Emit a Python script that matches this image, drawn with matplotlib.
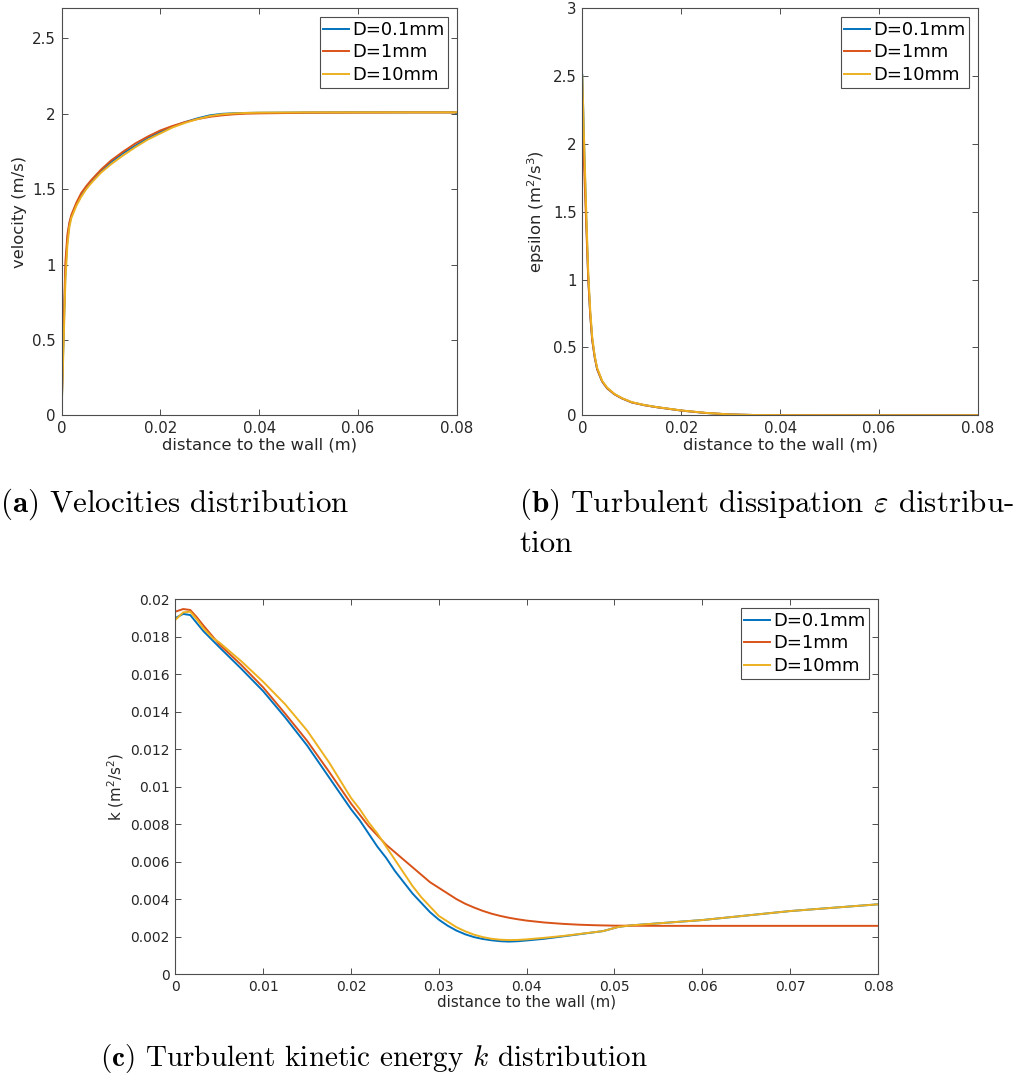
import matplotlib
matplotlib.use('Agg')
import matplotlib.pyplot as plt

# series labels and colours (MATLAB default order)
labels = ['D=0.1mm', 'D=1mm', 'D=10mm']
colors = ['#0072BD', '#D95319', '#EDB120']

# --- velocity profiles (m/s) vs distance to the wall (m)
vel_x = [0, 0.0004, 0.0008, 0.0012, 0.0016, 0.002, 0.003, 0.004, 0.005, 0.006,
         0.008, 0.01, 0.0125, 0.015, 0.0175, 0.02, 0.0225, 0.025, 0.0275, 0.03,
         0.0325, 0.035, 0.0375, 0.04, 0.045, 0.05, 0.06, 0.07, 0.0795, 0.08]
vel_01 = [0, 0.50, 0.96, 1.17, 1.27, 1.32, 1.40, 1.46, 1.51, 1.55,
          1.62, 1.68, 1.74, 1.79, 1.84, 1.88, 1.915, 1.945, 1.97, 1.99,
          2.0, 2.004, 2.006, 2.007, 2.008, 2.009, 2.01, 2.01, 2.01, 2.0]
vel_1 = [0, 0.56, 1.02, 1.20, 1.28, 1.33, 1.41, 1.475, 1.52, 1.56,
         1.63, 1.69, 1.75, 1.805, 1.85, 1.89, 1.92, 1.945, 1.965, 1.98,
         1.99, 1.997, 2.001, 2.003, 2.005, 2.007, 2.008, 2.009, 2.009, 2.009]
vel_10 = [0, 0.45, 0.90, 1.13, 1.25, 1.31, 1.39, 1.45, 1.50, 1.54,
          1.61, 1.665, 1.725, 1.78, 1.83, 1.87, 1.91, 1.94, 1.965, 1.985,
          1.997, 2.003, 2.006, 2.008, 2.009, 2.01, 2.01, 2.01, 2.01, 2.01]

# --- turbulent dissipation epsilon (m2/s3)
eps_x = [0, 0.0004, 0.0008, 0.0012, 0.0016, 0.002, 0.0025, 0.003, 0.004, 0.005,
         0.0065, 0.008, 0.01, 0.0125, 0.015, 0.02, 0.025, 0.03, 0.035, 0.04,
         0.05, 0.06, 0.08]
eps_01 = [2.51, 1.95, 1.45, 1.02, 0.75, 0.56, 0.43, 0.34, 0.25, 0.20,
          0.155, 0.125, 0.095, 0.075, 0.06, 0.035, 0.017, 0.006, 0.002, 0.001,
          0.0003, 0.0001, 0]
eps_1 = [2.15, 1.80, 1.40, 1.00, 0.74, 0.555, 0.43, 0.34, 0.25, 0.20,
         0.155, 0.125, 0.095, 0.075, 0.06, 0.035, 0.017, 0.006, 0.002, 0.001,
         0.0003, 0.0001, 0]
eps_10 = [2.50, 1.98, 1.50, 1.06, 0.78, 0.58, 0.44, 0.35, 0.255, 0.205,
          0.158, 0.127, 0.097, 0.076, 0.061, 0.036, 0.018, 0.006, 0.002, 0.001,
          0.0003, 0.0001, 0]

# --- turbulent kinetic energy k (m2/s2)
k_x_01 = [0, 0.0009, 0.0017, 0.0025, 0.0032, 0.005, 0.0075, 0.01, 0.0125, 0.015,
          0.0175, 0.02, 0.021, 0.022, 0.023, 0.024, 0.025, 0.026, 0.027, 0.028,
          0.029, 0.03, 0.031, 0.032, 0.033, 0.034, 0.035, 0.036, 0.037, 0.038,
          0.039, 0.04, 0.042, 0.0445, 0.0487, 0.0505, 0.052, 0.06, 0.07, 0.08]
k_01 = [0.0190, 0.01922, 0.01916, 0.0187, 0.0183, 0.01745, 0.0163, 0.0151, 0.0137, 0.0122,
        0.0105, 0.0088, 0.0082, 0.0075, 0.0068, 0.0062, 0.0055, 0.0049, 0.0043, 0.0038,
        0.0033, 0.0029, 0.00258, 0.00232, 0.00212, 0.00197, 0.00187, 0.0018, 0.00175, 0.00173,
        0.00175, 0.00179, 0.00188, 0.00203, 0.00229, 0.00252, 0.0026, 0.00288, 0.00336, 0.00372]

k_x_1 = [0, 0.0009, 0.0017, 0.0024, 0.0032, 0.005, 0.0075, 0.01, 0.0125, 0.015,
         0.0175, 0.02, 0.021, 0.022, 0.023, 0.024, 0.025, 0.026, 0.027, 0.028,
         0.029, 0.03, 0.031, 0.032, 0.033, 0.034, 0.035, 0.036, 0.037, 0.038,
         0.039, 0.04, 0.042, 0.044, 0.046, 0.048, 0.05, 0.055, 0.06, 0.07, 0.08]
k_1 = [0.01934, 0.01948, 0.01943, 0.01907, 0.0186, 0.0176, 0.0165, 0.0153, 0.0139, 0.01245,
       0.0108, 0.0091, 0.0085, 0.0079, 0.0074, 0.0069, 0.0065, 0.0061, 0.0057, 0.0053,
       0.0049, 0.0046, 0.0043, 0.0040, 0.00375, 0.00355, 0.00337, 0.00322, 0.0031, 0.0030,
       0.00292, 0.00285, 0.00275, 0.00268, 0.00263, 0.0026, 0.00258, 0.00257, 0.00257, 0.00257, 0.00257]

k_x_10 = [0, 0.0009, 0.0017, 0.0025, 0.0032, 0.0043, 0.005, 0.0075, 0.01, 0.0125,
          0.015, 0.0175, 0.02, 0.021, 0.022, 0.023, 0.024, 0.025, 0.026, 0.027,
          0.028, 0.029, 0.03, 0.031, 0.032, 0.033, 0.034, 0.035, 0.036, 0.037,
          0.038, 0.039, 0.04, 0.042, 0.0445, 0.0487, 0.0505, 0.052, 0.06, 0.07, 0.08]
k_10 = [0.0189, 0.0193, 0.01934, 0.0189, 0.01845, 0.01792, 0.0177, 0.0167, 0.0156, 0.0144,
        0.0130, 0.0113, 0.0094, 0.0088, 0.0081, 0.0075, 0.0068, 0.0061, 0.0054, 0.0047,
        0.0041, 0.0036, 0.0031, 0.0028, 0.0025, 0.00228, 0.0021, 0.00197, 0.00188, 0.00183,
        0.00181, 0.00182, 0.00185, 0.00193, 0.00205, 0.00229, 0.00252, 0.0026, 0.00288, 0.00336, 0.00372]

# tick labels
x_ticks_ab = [0, 0.02, 0.04, 0.06, 0.08]
x_ticks_c = [0, 0.01, 0.02, 0.03, 0.04, 0.05, 0.06, 0.07, 0.08]
vel_ticks = [0, 0.5, 1, 1.5, 2, 2.5]
eps_ticks = [0, 0.5, 1, 1.5, 2, 2.5, 3]
k_ticks = [0, 0.002, 0.004, 0.006, 0.008, 0.01, 0.012, 0.014, 0.016, 0.018, 0.02]

W, H = 1029, 1080
AX_COLOR = '#4d4d4d'
TXT_COLOR = '#262626'

fig = plt.figure(figsize=(W / 100, H / 100), dpi=100)


def px_axes(left, top, right, bottom):
    return fig.add_axes([left / W, 1 - bottom / H, (right - left) / W, (bottom - top) / H])


def style(ax, xticks, yticks, xlim, ylim, fs, lfs):
    ax.set_xlim(*xlim)
    ax.set_ylim(*ylim)
    ax.set_xticks(xticks, ['%g' % v for v in xticks])
    ax.set_yticks(yticks, ['%g' % v for v in yticks])
    ax.tick_params(direction='in', top=True, right=True, length=4.5, width=0.7,
                   color=AX_COLOR, labelcolor=TXT_COLOR, labelsize=fs, pad=4)
    for s in ax.spines.values():
        s.set_color(AX_COLOR)
        s.set_linewidth(0.8)
    ax.set_xlabel('distance to the wall (m)', fontsize=lfs, color=TXT_COLOR, labelpad=1)


def add_legend(ax, fs):
    leg = ax.legend(labels, loc='upper right', fontsize=fs, fancybox=False,
                    framealpha=1, edgecolor=AX_COLOR, handlelength=1.45,
                    handletextpad=0.15, labelspacing=0.25, borderpad=0.2,
                    borderaxespad=0.5)
    leg.get_frame().set_linewidth(0.8)


# (a) velocity
ax1 = px_axes(61.5, 8.3, 457, 415.3)
for y, c in zip([vel_01, vel_1, vel_10], colors):
    ax1.plot(vel_x, y, color=c, lw=1.4)
style(ax1, x_ticks_ab, vel_ticks, (0, 0.08), (0, 2.7), 10.8, 11.8)
ax1.set_ylabel('velocity (m/s)', fontsize=11.8, color=TXT_COLOR, labelpad=4)
add_legend(ax1, 13)

# (b) epsilon
ax2 = px_axes(582.3, 8.3, 978, 415.3)
for y, c in zip([eps_01, eps_1, eps_10], colors):
    ax2.plot(eps_x, y, color=c, lw=1.4)
style(ax2, x_ticks_ab, eps_ticks, (0, 0.08), (0, 3), 10.8, 11.8)
ax2.set_ylabel('epsilon (m$^2$/s$^3$)', fontsize=11.8, color=TXT_COLOR, labelpad=4)
add_legend(ax2, 13)

# (c) k
ax3 = px_axes(175.3, 599.3, 878, 974)
for xs, y, c in zip([k_x_01, k_x_1, k_x_10], [k_01, k_1, k_10], colors):
    ax3.plot(xs, y, color=c, lw=1.4)
style(ax3, x_ticks_c, k_ticks, (0, 0.08), (0, 0.02), 10, 10.8)
ax3.set_ylabel('k (m$^2$/s$^2$)', fontsize=10.8, color=TXT_COLOR, labelpad=3)
add_legend(ax3, 13)

# sub-figure captions
cap = dict(family='cmr10', math_fontfamily='cm', color='black', va='baseline')
fig.text(0 / W, 1 - 512 / H, r'$\mathbf{(a)}$ Velocities distribution', fontsize=22.3, **cap)
fig.text(519 / W, 1 - 512 / H, r'$\mathbf{(b)}$ Turbulent dissipation $\varepsilon$ distribu-',
         fontsize=22.3, **cap)
fig.text(519 / W, 1 - 552 / H, 'tion', fontsize=22.3, **cap)
fig.text(100 / W, 1 - 1066 / H, r'$\mathbf{(c)}$ Turbulent kinetic energy $k$ distribution',
         fontsize=21, **cap)

fig.savefig('out.png', dpi=100)
